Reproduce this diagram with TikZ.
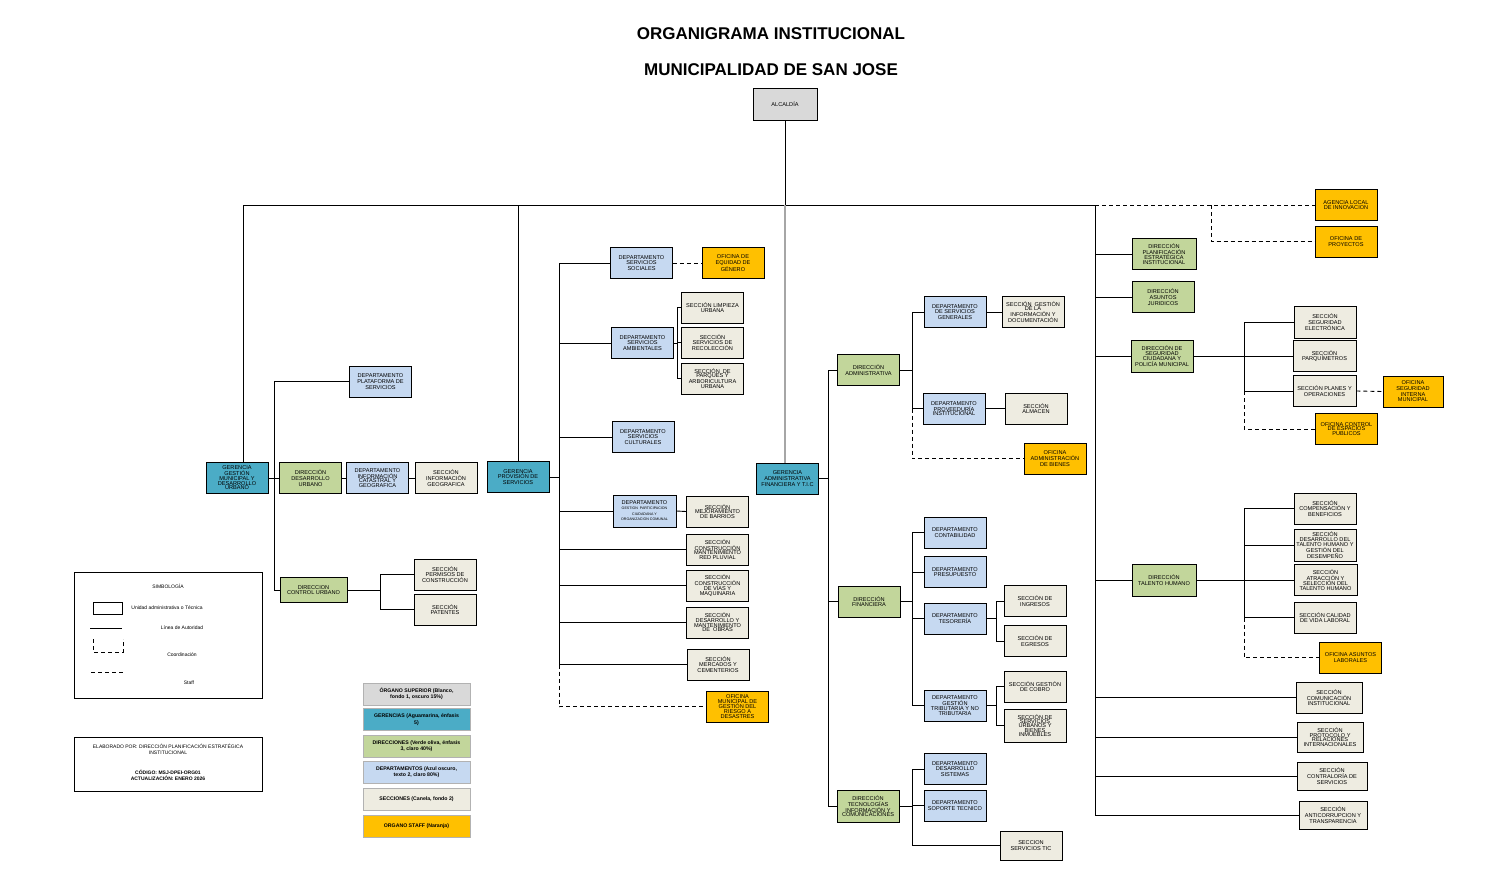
\documentclass[tikz,border=0pt]{standalone}
\usepackage{fontspec}
\setmainfont{Liberation Sans}
\usepackage{tikz}
\definecolor{superiorgray}{HTML}{D9D9D9}
\definecolor{gerenciateal}{HTML}{4BACC6}
\definecolor{direccionolive}{HTML}{C2D69B}
\definecolor{deptoblue}{HTML}{C6D9F1}
\definecolor{seccioncanela}{HTML}{EEECE1}
\definecolor{stafforange}{HTML}{FFC000}
\newcommand\orgfont{\fontsize{5.6}{5.7}\selectfont}
\newcommand\legfont{\fontsize{5}{6}\selectfont}
\newcommand\smallorg{\fontsize{3.6}{5.6}\selectfont}

\begin{document}
\begin{tikzpicture}[x=1pt, y=-1pt,
	unit/.style={draw=black, line width=0.9pt, minimum width=62pt, minimum height=31pt, inner sep=1pt, align=center, font=\orgfont},
	tight/.style={font=\fontsize{5.6}{4.7}\selectfont},
	superior/.style={unit, fill=superiorgray},
	gerencia/.style={unit, fill=gerenciateal},
	direccion/.style={unit, fill=direccionolive},
	depto/.style={unit, fill=deptoblue},
	seccion/.style={unit, fill=seccioncanela},
	staff/.style={unit, fill=stafforange},
	auth/.style={line width=0.9pt},
	staffline/.style={line width=0.9pt, dashed, dash pattern=on 4pt off 3pt},
	colorkey/.style={draw=gray!60, line width=1pt, minimum width=107pt, minimum height=22pt, inner sep=1pt, align=center, font=\fontsize{5.2}{6.4}\selectfont\bfseries},
	title/.style={font=\fontsize{17}{20}\selectfont\bfseries}]
	\useasboundingbox (0,0) rectangle (1486,878);

	\node[title] (t1) at (771,34) {ORGANIGRAMA INSTITUCIONAL};
	\node[title] (t2) at (771,70) {MUNICIPALIDAD DE SAN JOSE};
	\node[superior, minimum width=64pt, minimum height=32pt] (alc) at (785,104) {ALCALDÍA};

	\coordinate (bus) at (785,205);
	\coordinate (busL) at (243,205);
	\coordinate (busR) at (1095,205);
	\coordinate (stafk) at (1211,205);

	% gerencia gestion municipal
	\node[gerencia, tight] (ggm) at (237,478) {GERENCIA\\GESTIÓN\\MUNICIPAL Y\\DESARROLLO\\URBANO};
	\node[depto] (dps) at (380.5,381.5) {DEPARTAMENTO\\PLATAFORMA DE\\SERVICIOS};
	\node[direccion] (ddu) at (310.5,478) {DIRECCIÓN\\DESARROLLO\\URBANO};
	\node[depto, tight] (dic) at (377.5,478) {DEPARTAMENTO\\INFORMACIÓN\\CATASTRAL Y\\GEOGRAFICA};
	\node[seccion] (sig) at (446,478) {SECCIÓN\\INFORMACIÓN\\GEOGRAFICA};
	\node[direccion, minimum width=67pt, minimum height=25pt] (dcu) at (313.5,590) {DIRECCION\\CONTROL URBANO};
	\node[seccion] (spc) at (445,574.5) {SECCIÓN\\PERMISOS DE\\CONSTRUCCIÓN};
	\node[seccion] (spa) at (445,609.5) {SECCIÓN\\PATENTES};

	% gerencia provision de servicios
	\node[gerencia] (gps) at (518,477) {GERENCIA\\PROVISIÓN DE\\SERVICIOS};
	\node[depto] (dss) at (641.5,263) {DEPARTAMENTO\\SERVICIOS\\SOCIALES};
	\node[staff] (oeg) at (733,263) {OFICINA DE\\EQUIDAD DE\\GÉNERO};
	\node[depto] (dsa) at (642.5,343) {DEPARTAMENTO\\SERVICIOS\\AMBIENTALES};
	\node[seccion] (slu) at (712.5,307.5) {SECCIÓN LIMPIEZA\\URBANA};
	\node[seccion] (srr) at (712.5,342.5) {SECCIÓN\\SERVICIOS DE\\RECOLECCIÓN};
	\node[seccion, tight] (spar) at (712.5,378.5) {SECCIÓN\ \ DE\\PARQUES Y\\ARBORICULTURA\\URBANA};
	\node[depto] (dsc) at (643,437) {DEPARTAMENTO\\SERVICIOS\\CULTURALES};
	\node[depto, minimum width=63pt, minimum height=32pt] (dpc) at (644.5,511) {DEPARTAMENTO\\[-1pt]\smallorg GESTION\ \ PARTICIPACION\\\smallorg CIUDADANA Y\\\smallorg ORGANIZACION COMUNAL};
	\node[seccion, tight] (smb) at (717.5,511.5) {SECCIÓN\\MEJORAMIENTO\\DE BARRIOS};
	\node[seccion, tight] (scp) at (717.5,549.5) {SECCIÓN\\CONSTRUCCIÓN\\MANTENIMIENTO\\RED PLUVIAL};
	\node[seccion, tight] (scvm) at (717.5,585.5) {SECCIÓN\\CONSTRUCCIÓN\\DE VÍAS Y\\MAQUINARIA};
	\node[seccion, tight] (sdmo) at (717.5,622.5) {SECCIÓN\\DESARROLLO Y\\MANTENIMIENTO\\DE\ \ OBRAS};
	\node[seccion] (smc) at (718,664.5) {SECCIÓN\\MERCADOS Y\\CEMENTERIOS};
	\node[staff, font=\fontsize{5.6}{5.2}\selectfont] (omr) at (737.5,706.5) {OFICINA\\MUNICIPAL DE\\GESTIÓN DEL\\RIESGO A\\DESASTRES};

	% gerencia administrativa financiera
	\node[gerencia] (gaf) at (787.5,478.5) {GERENCIA\\ADMINISTRATIVA\\FINANCIERA Y T.I.C};
	\node[direccion] (dad) at (868.5,370) {DIRECCIÓN\\ADMINISTRATIVA};
	\node[depto] (dsg) at (955,312) {DEPARTAMENTO\\DE SERVICIOS\\GENERALES};
	\node[seccion, tight] (sgi) at (1033,312) {SECCIÓN\ \ GESTIÓN\\DE LA\\INFORMACIÓN Y\\DOCUMENTACIÓN};
	\node[depto, tight] (dpi) at (954,408.5) {DEPARTAMENTO\\PROVEEDURÍA\\INSTITUCIONAL};
	\node[seccion] (sal) at (1036,408.5) {SECCIÓN\\ALMACEN};
	\node[staff] (oab) at (1055,458.5) {OFICINA\\ADMINISTRACIÓN\\DE BIENES};
	\node[direccion] (dfi) at (869,601.5) {DIRECCIÓN\\FINANCIERA};
	\node[depto] (dco) at (955,532.5) {DEPARTAMENTO\\CONTABILIDAD};
	\node[depto] (dpr) at (955,572) {DEPARTAMENTO\\PRESUPUESTO};
	\node[depto] (dte) at (955,618.5) {DEPARTAMENTO\\TESORERÍA};
	\node[seccion] (sin) at (1035,601) {SECCIÓN DE\\INGRESOS};
	\node[seccion] (seg) at (1035,641) {SECCIÓN DE\\EGRESOS};
	\node[depto, tight] (dgt) at (955,705.5) {DEPARTAMENTO\\GESTIÓN\\TRIBUTARIA Y NO\\TRIBUTARIA};
	\node[seccion] (sgc) at (1035,686.5) {SECCIÓN GESTIÓN\\DE COBRO};
	\node[seccion, font=\fontsize{5.6}{4.3}\selectfont, minimum height=33pt] (ssu) at (1035,725.5) {SECCIÓN DE\\SERVICIOS\\URBANOS Y\\BIENES\\INMUEBLES};
	\node[direccion, font=\fontsize{5.6}{4.4}\selectfont, minimum height=32pt] (dti) at (868,806) {DIRECCIÓN\\TECNOLOGÍAS\\INFORMACIÓN Y\\COMUNICACIONES};
	\node[depto] (dds) at (955,769) {DEPARTAMENTO\\DESARROLLO\\SISTEMAS};
	\node[depto] (dst) at (955,805.5) {DEPARTAMENTO\\SOPORTE TECNICO};
	\node[seccion, minimum height=29pt] (sst) at (1031,845.5) {SECCION\\SERVICIOS TIC};

	% organos bajo alcaldia
	\node[staff] (ali) at (1346,205) {AGENCIA LOCAL\\DE INNOVACION};
	\node[staff] (ofp) at (1346,241.5) {OFICINA DE\\PROYECTOS};
	\node[direccion, tight, minimum width=64pt] (dpe) at (1164,254) {DIRECCIÓN\\PLANIFICACIÓN\\ESTRATÉGICA\\INSTITUCIONAL};
	\node[direccion] (daj) at (1163,297) {DIRECCIÓN\\ASUNTOS\\JURIDICOS};
	\node[direccion, tight, minimum height=32pt] (dsci) at (1162,356) {DIRECCIÓN DE\\SEGURIDAD\\CIUDADANA Y\\POLICÍA MUNICIPAL};
	\node[seccion, minimum height=32pt] (sse) at (1325,322) {SECCIÓN\\SEGURIDAD\\ELECTRÓNICA};
	\node[seccion, minimum width=63pt] (spq) at (1324.5,356) {SECCIÓN\\PARQUÍMETROS};
	\node[seccion, minimum width=63pt] (spo) at (1324.5,391) {SECCIÓN PLANES Y\\OPERACIONES};
	\node[staff, minimum width=60pt] (osi) at (1413,391.5) {OFICINA\\SEGURIDAD\\INTERNA\\MUNICIPAL};
	\node[staff, tight] (oce) at (1346.5,429) {OFICINA CONTROL\\DE ESPACIOS\\PUBLICOS};
	\node[direccion, minimum width=64pt, minimum height=32pt] (dth) at (1164,580) {DIRECCIÓN\\TALENTO HUMANO};
	\node[seccion] (scb) at (1325,508.5) {SECCIÓN\\COMPENSACIÓN Y\\BENEFICIOS};
	\node[seccion, font=\fontsize{5.6}{4.7}\selectfont, minimum height=32pt] (sdt) at (1325,545) {SECCIÓN\\DESARROLLO DEL\\TALENTO HUMANO Y\\GESTIÓN DEL\\DESEMPEÑO};
	\node[seccion, tight, minimum width=63pt] (sas) at (1325.5,580) {SECCIÓN\\ATRACCIÓN Y\\SELECCIÓN DEL\\TALENTO HUMANO};
	\node[seccion] (scl) at (1325,617.5) {SECCIÓN CALIDAD\\DE VIDA LABORAL};
	\node[staff] (oal) at (1350.5,657.5) {OFICINA ASUNTOS\\LABORALES};
	\node[seccion, tight, minimum width=66pt] (sci) at (1329,697.5) {SECCIÓN\\COMUNICACIÓN\\INSTITUCIONAL};
	\node[seccion, tight, minimum width=66pt, minimum height=30pt] (spri) at (1330,737) {SECCIÓN\\PROTOCOLO Y\\RELACIONES\\INTERNACIONALES};
	\node[seccion, minimum width=70pt, minimum height=28pt] (scsv) at (1332,776) {SECCIÓN\\CONTRALORÍA DE\\SERVICIOS};
	\node[seccion, minimum width=68pt, minimum height=28pt] (sac) at (1333,815) {SECCIÓN\\ANTICORRUPCION Y\\TRANSPARENCIA};

	% lineas de autoridad
	\draw[auth] (alc.south) -- (bus);
	\draw[auth] (busL) -- (busR);
	\draw[auth] (busL) -- (ggm.north -| busL);
	\draw[auth] (gps.north) -- (gps.north |- bus);
	\draw[line width=1.2pt, gray!70] (bus) -- (gaf.north -| bus);
	\draw[staffline] (busR) -- (ali.west);
	\draw[staffline] (stafk) |- (ofp.west);

	\coordinate (lsp) at (274,478);
	\draw[auth] (ggm.east) -- (ddu.west);
	\draw[auth] (dps.west) -| (lsp);
	\draw[auth] (dcu.west) -| (lsp);
	\draw[auth] (ddu.east) -- (dic.west);
	\draw[auth] (dic.east) -- (sig.west);
	\coordinate (cus) at (380,590);
	\draw[auth] (dcu.east) -- (cus);
	\draw[auth] (spc.west) -| (cus);
	\draw[auth] (spa.west) -| (cus);

	\coordinate (psp) at (559,477);
	\draw[auth] (gps.east) -- (psp);
	\foreach \n in {dss,dsa,dsc,dpc,scp,scvm,sdmo,smc}
		\draw[auth] (\n.west) -| (psp);
	\draw[staffline] (dss.east) -- (oeg.west);
	\coordinate (asp) at (677,343);
	\draw[auth] (dsa.east) -- (asp);
	\foreach \n in {slu,srr,spar}
		\draw[auth] (\n.west) -| (asp);
	\draw[auth] (dpc.east) -- (smb.west);
	\draw[staffline] (smc.west -| psp) |- (omr.west);

	\coordinate (gsp) at (828,478.5);
	\draw[auth] (gaf.east) -- (gsp);
	\foreach \n in {dad,dfi,dti}
		\draw[auth] (\n.west) -| (gsp);
	\coordinate (dasp) at (912,370);
	\draw[auth] (dad.east) -- (dasp);
	\foreach \n in {dsg,dpi}
		\draw[auth] (\n.west) -| (dasp);
	\draw[auth] (dsg.east) -- (sgi.west);
	\draw[auth] (dpi.east) -- (sal.west);
	\draw[staffline] (dpi.west -| dasp) |- (oab.west);
	\coordinate (fsp) at (912,601.5);
	\draw[auth] (dfi.east) -- (fsp);
	\foreach \n in {dco,dpr,dte,dgt}
		\draw[auth] (\n.west) -| (fsp);
	\coordinate (tsp) at (996,618.5);
	\draw[auth] (dte.east) -- (tsp);
	\foreach \n in {sin,seg}
		\draw[auth] (\n.west) -| (tsp);
	\coordinate (trsp) at (996,705.5);
	\draw[auth] (dgt.east) -- (trsp);
	\foreach \n in {sgc,ssu}
		\draw[auth] (\n.west) -| (trsp);
	\coordinate (ticsp) at (912,806);
	\draw[auth] (dti.east) -- (ticsp);
	\foreach \n in {dds,dst,sst}
		\draw[auth] (\n.west) -| (ticsp);

	\foreach \n in {dpe,daj,dsci,dth,sci,spri,scsv,sac}
		\draw[auth] (\n.west) -| (busR);
	\coordinate (ssp) at (1244,356);
	\draw[auth] (dsci.east) -- (spq.west);
	\foreach \n in {sse,spo}
		\draw[auth] (\n.west) -| (ssp);
	\draw[staffline] (spo.east) -- (osi.west);
	\draw[staffline] (spo.west -| ssp) |- (oce.west);
	\coordinate (thsp) at (1244,580);
	\draw[auth] (dth.east) -- (sas.west);
	\foreach \n in {scb,sdt,scl}
		\draw[auth] (\n.west) -| (thsp);
	\draw[staffline] (scl.west -| thsp) |- (oal.west);

	% simbologia
	\node[draw, line width=0.9pt, minimum width=188pt, minimum height=126pt] (simb) at (168,635) {};
	\node[font=\legfont] (simbt) at (168,586) {SIMBOLOGÍA};
	\draw[line width=0.9pt] (93,602) rectangle (122,614);
	\node[font=\legfont] (kunit) at (167,608) {Unidad administrativa o Técnica};
	\draw[auth] (90,628) -- (122,628);
	\node[font=\legfont] (kauth) at (182,628) {Línea de Autoridad};
	\draw[staffline] (93,639) -- (93,652) -- (123,652) -- (123,639);
	\node[font=\legfont] (kcoord) at (182,655) {Coordinación};
	\draw[staffline] (91,672) -- (124,672);
	\node[font=\legfont] (kstaff) at (189,683) {Staff};

	\node[draw, line width=0.9pt, minimum width=188pt, minimum height=54pt] (elab) at (168,764) {};
	\node[font=\legfont, align=center] (elabt) at (168,749) {ELABORADO POR: DIRECCIÓN PLANIFICACIÓN ESTRATÉGICA\\INSTITUCIONAL};
	\node[font=\legfont\bfseries, align=center] (codt) at (168,775) {CÓDIGO: MSJ-DPEI-ORG01\\ACTUALIZACIÓN: ENERO 2026};

	\node[colorkey, fill=superiorgray] (k1) at (416.5,694) {ÓRGANO SUPERIOR (Blanco,\\fondo 1, oscuro 15\%)};
	\node[colorkey, fill=gerenciateal] (k2) at (416.5,719.5) {GERENCIAS (Aguamarina, énfasis\\5)};
	\node[colorkey, fill=direccionolive] (k3) at (416.5,746) {DIRECCIONES (Verde oliva, énfasis\\3, claro 40\%)};
	\node[colorkey, fill=deptoblue] (k4) at (416.5,772) {DEPARTAMENTOS (Azul oscuro,\\texto 2, claro 80\%)};
	\node[colorkey, fill=seccioncanela] (k5) at (416.5,799.5) {SECCIONES (Canela, fondo 2)};
	\node[colorkey, fill=stafforange] (k6) at (416.5,826) {ORGANO STAFF (Naranja)};
\end{tikzpicture}
\end{document}
